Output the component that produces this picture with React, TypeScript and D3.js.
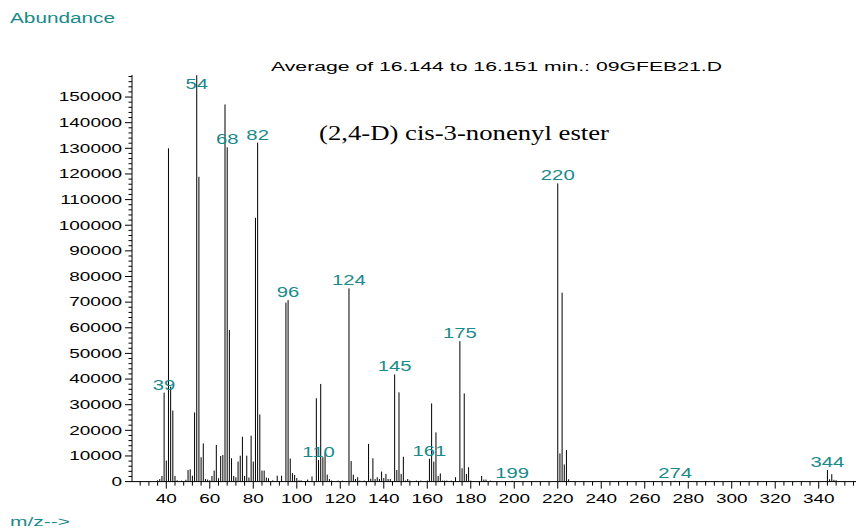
import React from "react";
import * as d3 from "d3";

const mzValues = [
  36, 37, 38, 39, 40, 41, 42, 43, 44, 45, 47, 49, 50, 51, 52, 53, 54, 55, 56, 57, 58, 59, 60, 61, 62, 63, 64, 65, 66, 67, 68, 69, 70,
  71, 72, 73, 74, 75, 76, 77, 78, 79, 80, 81, 82, 83, 84, 85, 86, 87, 89, 91, 93, 95, 96, 97, 98, 99, 100, 101, 102, 105, 107,
  109, 110, 111, 112, 113, 114, 115, 116, 119, 121, 124, 125, 126, 127, 128, 129, 131, 133, 134, 135, 136, 137, 138, 139, 140,
  141, 142, 143, 145, 146, 147, 148, 149, 150, 151, 152, 155, 157, 160, 161, 162, 163, 164, 165, 166, 167, 168, 169, 171, 173,
  175, 176, 177, 178, 179, 180, 185, 186, 187, 189, 199, 220, 221, 222, 223, 224, 225, 274, 344, 345, 346, 347, 348,
];
const abundanceValues = [
  500, 1000, 2200, 34700, 8200, 130000, 37000, 27700, 2200, 500, 400, 700, 4500, 4800, 2300, 27000, 158500, 118900, 9500, 14900,
  1000, 800, 500, 2200, 4300, 14300, 1300, 10000, 10400, 147100, 130400, 59100, 9100, 2200, 1700, 7800, 10100, 17500, 2200, 10100,
  1600, 17900, 7800, 102900, 132200, 26200, 4300, 4300, 1600, 1300, 500, 2300, 2300, 69800, 70800, 9000, 3300, 2600, 1400, 500,
  500, 800, 2000, 32500, 8400, 38100, 9500, 11300, 2700, 1000, 400, 400, 400, 75400, 8000, 2700, 1000, 1700, 400, 400, 14700,
  1100, 9100, 1000, 1700, 1000, 3900, 1400, 3000, 1000, 1000, 41800, 4500, 34800, 3000, 9700, 400, 1000, 400, 400, 400, 400,
  8900, 30500, 7800, 19200, 2200, 3200, 400, 400, 400, 400, 1700, 54800, 5200, 34400, 3000, 5600, 400, 2200, 800, 800, 400, 300,
  116300, 11000, 73700, 6700, 12300, 900, 300, 4500, 900, 2900, 700, 500,
];
const labeledPeaks = [39, 54, 68, 82, 96, 110, 124, 145, 161, 175, 199, 220, 274, 344];
const yTickValues = [0, 10000, 20000, 30000, 40000, 50000, 60000, 70000, 80000, 90000, 100000, 110000, 120000, 130000, 140000, 150000];
const xTickValues = [40, 60, 80, 100, 120, 140, 160, 180, 200, 220, 240, 260, 280, 300, 320, 340];

const titleText = "Average of 16.144 to 16.151 min.: 09GFEB21.D";
const compoundText = "(2,4-D) cis-3-nonenyl ester";
const yAxisTitle = "Abundance";
const xAxisTitle = "m/z-->";

const TEAL = "#1a8a8a";
const SX = 1.58;

export default function App() {
  const W = 857;
  const H = 531;
  const x = d3.scaleLinear().domain([24.23, 357.6]).range([132, 857]);
  const y = d3.scaleLinear().domain([0, 158600]).range([481.6, 75]);
  const x0 = 132;
  const xEnd = 856;

  const minorY = d3.range(0, 158001, 2000);
  const minorX = d3.range(28, 357, 4);

  const data = mzValues.map((m, i) => ({ m, v: abundanceValues[i] }));

  return (
    <svg
      width={W}
      height={H}
      style={{ position: "absolute", left: 0, top: 0, background: "#fff" }}
      fontFamily="'Liberation Sans', Arial, sans-serif"
    >
      {/* titles */}
      <text x={10} y={22.5} fill={TEAL} fontSize={14} textLength={105} lengthAdjust="spacingAndGlyphs">
        {yAxisTitle}
      </text>
      <text x={10} y={526} fill={TEAL} fontSize={13} textLength={60} lengthAdjust="spacingAndGlyphs">
        {xAxisTitle}
      </text>
      <text x={271} y={71.3} fill="#000" fontSize={12.5} textLength={451} lengthAdjust="spacingAndGlyphs">
        {titleText}
      </text>
      <text
        x={319}
        y={140}
        fill="#000"
        fontSize={20}
        fontFamily="'Liberation Serif', 'Times New Roman', serif"
        textLength={290}
        lengthAdjust="spacingAndGlyphs"
      >
        {compoundText}
      </text>

      {/* y axis */}
      <line x1={x0} x2={x0} y1={y(0)} y2={75} stroke="#000" strokeWidth={1} />
      {minorY.map((t) => (
        <line key={"my" + t} x1={x0 - (t % 10000 === 0 ? 7 : 3.5)} x2={x0} y1={y(t)} y2={y(t)} stroke="#000" strokeWidth={1} />
      ))}
      {yTickValues.map((t) => (
        <g key={"yl" + t} transform={`translate(${x0 - 10},${y(t) + 4.3}) scale(${SX},1)`}>
          <text textAnchor="end" fontSize={12} fill="#000">
            {t}
          </text>
        </g>
      ))}

      {/* x axis */}
      <line x1={x0} x2={xEnd} y1={y(0)} y2={y(0)} stroke="#000" strokeWidth={1} />
      {minorX.map((t) => (
        <line key={"mx" + t} x1={x(t)} x2={x(t)} y1={y(0)} y2={y(0) + (t % 20 === 0 ? 7 : 4)} stroke="#000" strokeWidth={1} />
      ))}
      {xTickValues.map((t) => (
        <g key={"xl" + t} transform={`translate(${x(t)},502.5) scale(${SX},1)`}>
          <text textAnchor="middle" fontSize={12} fill="#000">
            {t}
          </text>
        </g>
      ))}

      {/* bars */}
      {data.map((d) => (
        <line key={"b" + d.m} x1={x(d.m)} x2={x(d.m)} y1={y(0)} y2={y(d.v)} stroke="#000" strokeWidth={1} />
      ))}

      {/* peak labels */}
      {labeledPeaks.map((m) => {
        const d = data.find((e) => e.m === m);
        const v = d ? d.v : 0;
        const by = Math.max(y(v) - 3, 89);
        return (
          <g key={"pl" + m} transform={`translate(${x(m)},${by}) scale(1.45,1)`}>
            <text textAnchor="middle" fontSize={14} fill={TEAL}>
              {m}
            </text>
          </g>
        );
      })}
    </svg>
  );
}
